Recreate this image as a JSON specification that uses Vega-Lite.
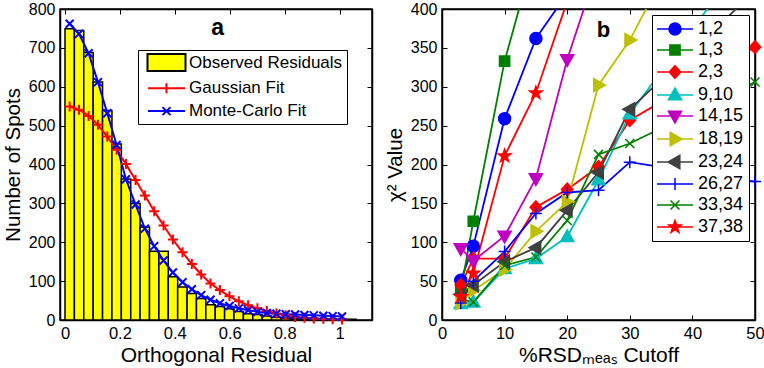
{
  "$schema": "https://vega.github.io/schema/vega-lite/v6.json",
  "padding": {"left": 2, "top": 0, "right": 0, "bottom": 0},
  "bounds": "flush",
  "spacing": 70,
  "config": {
    "font": "Liberation Sans",
    "view": {"stroke": "black", "strokeWidth": 1.5},
    "axis": {
      "labelFont": "Liberation Sans", "labelFontSize": 16.5, "labelColor": "black",
      "titleFont": "Liberation Sans", "titleFontSize": 21, "titleFontWeight": "normal", "titleColor": "black",
      "domainColor": "black", "domainWidth": 1.5, "tickColor": "black", "tickSize": -5, "tickWidth": 1,
      "labelPadding": 10, "titlePadding": 3, "grid": false
    },
    "axisX": {"labelFlush": false},
    "axisY": {"titlePadding": 4.8, "titleFontSize": 20.5, "labelFontSize": 16},
    "legend": {"labelFont": "Liberation Sans", "labelColor": "black", "labelLimit": 400}
  },
  "datasets": {
    "hist": [
      {"x0": 0, "x1": 0.0342, "n": 749}, {"x0": 0.0342, "x1": 0.0684, "n": 745}, {"x0": 0.0684, "x1": 0.1026, "n": 688},
      {"x0": 0.1026, "x1": 0.1368, "n": 612}, {"x0": 0.1368, "x1": 0.171, "n": 539}, {"x0": 0.171, "x1": 0.2052, "n": 453},
      {"x0": 0.2052, "x1": 0.2394, "n": 363}, {"x0": 0.2394, "x1": 0.2736, "n": 300}, {"x0": 0.2736, "x1": 0.3078, "n": 239},
      {"x0": 0.3078, "x1": 0.342, "n": 177}, {"x0": 0.342, "x1": 0.3762, "n": 177}, {"x0": 0.3762, "x1": 0.4104, "n": 111},
      {"x0": 0.4104, "x1": 0.4446, "n": 85}, {"x0": 0.4446, "x1": 0.4788, "n": 68}, {"x0": 0.4788, "x1": 0.513, "n": 55},
      {"x0": 0.513, "x1": 0.5472, "n": 39}, {"x0": 0.5472, "x1": 0.5814, "n": 35}, {"x0": 0.5814, "x1": 0.6156, "n": 29},
      {"x0": 0.6156, "x1": 0.6498, "n": 22}, {"x0": 0.6498, "x1": 0.684, "n": 16}, {"x0": 0.684, "x1": 0.7182, "n": 14},
      {"x0": 0.7182, "x1": 0.7524, "n": 10}, {"x0": 0.7524, "x1": 0.7866, "n": 7}, {"x0": 0.7866, "x1": 0.8208, "n": 5},
      {"x0": 0.8208, "x1": 0.855, "n": 4}, {"x0": 0.855, "x1": 0.8892, "n": 3}, {"x0": 0.8892, "x1": 0.9234, "n": 3},
      {"x0": 0.9234, "x1": 0.9576, "n": 2}, {"x0": 0.9576, "x1": 0.9918, "n": 2}, {"x0": 0.9918, "x1": 1.026, "n": 2},
      {"x0": 1.026, "x1": 1.0602, "n": 2}
    ],
    "fits": [
      {"series": "Gaussian Fit", "x": 0.017, "y": 549}, {"series": "Gaussian Fit", "x": 0.051, "y": 541},
      {"series": "Gaussian Fit", "x": 0.086, "y": 525}, {"series": "Gaussian Fit", "x": 0.12, "y": 502},
      {"series": "Gaussian Fit", "x": 0.154, "y": 472}, {"series": "Gaussian Fit", "x": 0.188, "y": 438},
      {"series": "Gaussian Fit", "x": 0.222, "y": 401}, {"series": "Gaussian Fit", "x": 0.257, "y": 360},
      {"series": "Gaussian Fit", "x": 0.291, "y": 320}, {"series": "Gaussian Fit", "x": 0.325, "y": 280},
      {"series": "Gaussian Fit", "x": 0.359, "y": 243}, {"series": "Gaussian Fit", "x": 0.393, "y": 207},
      {"series": "Gaussian Fit", "x": 0.428, "y": 174}, {"series": "Gaussian Fit", "x": 0.462, "y": 144},
      {"series": "Gaussian Fit", "x": 0.496, "y": 117}, {"series": "Gaussian Fit", "x": 0.53, "y": 94},
      {"series": "Gaussian Fit", "x": 0.564, "y": 77}, {"series": "Gaussian Fit", "x": 0.599, "y": 61},
      {"series": "Gaussian Fit", "x": 0.633, "y": 48}, {"series": "Gaussian Fit", "x": 0.667, "y": 38},
      {"series": "Gaussian Fit", "x": 0.701, "y": 30}, {"series": "Gaussian Fit", "x": 0.735, "y": 23},
      {"series": "Gaussian Fit", "x": 0.77, "y": 17}, {"series": "Gaussian Fit", "x": 0.804, "y": 12},
      {"series": "Gaussian Fit", "x": 0.838, "y": 8}, {"series": "Gaussian Fit", "x": 0.872, "y": 6},
      {"series": "Gaussian Fit", "x": 0.906, "y": 4}, {"series": "Gaussian Fit", "x": 0.941, "y": 3},
      {"series": "Gaussian Fit", "x": 0.975, "y": 2}, {"series": "Gaussian Fit", "x": 1.009, "y": 1},
      {"series": "Monte-Carlo Fit", "x": 0.017, "y": 762}, {"series": "Monte-Carlo Fit", "x": 0.051, "y": 736},
      {"series": "Monte-Carlo Fit", "x": 0.086, "y": 686}, {"series": "Monte-Carlo Fit", "x": 0.12, "y": 612},
      {"series": "Monte-Carlo Fit", "x": 0.154, "y": 532}, {"series": "Monte-Carlo Fit", "x": 0.188, "y": 450},
      {"series": "Monte-Carlo Fit", "x": 0.222, "y": 362}, {"series": "Monte-Carlo Fit", "x": 0.257, "y": 297},
      {"series": "Monte-Carlo Fit", "x": 0.291, "y": 235}, {"series": "Monte-Carlo Fit", "x": 0.325, "y": 190},
      {"series": "Monte-Carlo Fit", "x": 0.359, "y": 153}, {"series": "Monte-Carlo Fit", "x": 0.393, "y": 122},
      {"series": "Monte-Carlo Fit", "x": 0.428, "y": 97}, {"series": "Monte-Carlo Fit", "x": 0.462, "y": 79},
      {"series": "Monte-Carlo Fit", "x": 0.496, "y": 64}, {"series": "Monte-Carlo Fit", "x": 0.53, "y": 52},
      {"series": "Monte-Carlo Fit", "x": 0.564, "y": 43}, {"series": "Monte-Carlo Fit", "x": 0.599, "y": 36},
      {"series": "Monte-Carlo Fit", "x": 0.633, "y": 30}, {"series": "Monte-Carlo Fit", "x": 0.667, "y": 25},
      {"series": "Monte-Carlo Fit", "x": 0.701, "y": 21}, {"series": "Monte-Carlo Fit", "x": 0.735, "y": 18},
      {"series": "Monte-Carlo Fit", "x": 0.77, "y": 16}, {"series": "Monte-Carlo Fit", "x": 0.804, "y": 15},
      {"series": "Monte-Carlo Fit", "x": 0.838, "y": 14}, {"series": "Monte-Carlo Fit", "x": 0.872, "y": 13},
      {"series": "Monte-Carlo Fit", "x": 0.906, "y": 12}, {"series": "Monte-Carlo Fit", "x": 0.941, "y": 11},
      {"series": "Monte-Carlo Fit", "x": 0.975, "y": 10}, {"series": "Monte-Carlo Fit", "x": 1.009, "y": 9}
    ],
    "chi": [
      {"s": "1,2", "x": 3, "y": 51}, {"s": "1,2", "x": 5, "y": 95}, {"s": "1,2", "x": 10, "y": 259}, {"s": "1,2", "x": 15, "y": 362}, {"s": "1,2", "x": 20, "y": 420},
      {"s": "1,3", "x": 3, "y": 38}, {"s": "1,3", "x": 5, "y": 127}, {"s": "1,3", "x": 10, "y": 333}, {"s": "1,3", "x": 15, "y": 478},
      {"s": "2,3", "x": 3, "y": 45}, {"s": "2,3", "x": 5, "y": 79}, {"s": "2,3", "x": 10, "y": 79}, {"s": "2,3", "x": 15, "y": 145}, {"s": "2,3", "x": 20, "y": 168}, {"s": "2,3", "x": 25, "y": 197}, {"s": "2,3", "x": 30, "y": 257}, {"s": "2,3", "x": 50, "y": 351},
      {"s": "9,10", "x": 3, "y": 21}, {"s": "9,10", "x": 5, "y": 23}, {"s": "9,10", "x": 10, "y": 66}, {"s": "9,10", "x": 15, "y": 79}, {"s": "9,10", "x": 20, "y": 107}, {"s": "9,10", "x": 25, "y": 180}, {"s": "9,10", "x": 30, "y": 265}, {"s": "9,10", "x": 50, "y": 483},
      {"s": "14,15", "x": 3, "y": 92}, {"s": "14,15", "x": 5, "y": 76}, {"s": "14,15", "x": 10, "y": 108}, {"s": "14,15", "x": 15, "y": 182}, {"s": "14,15", "x": 20, "y": 335}, {"s": "14,15", "x": 25, "y": 457},
      {"s": "18,19", "x": 3, "y": 22}, {"s": "18,19", "x": 5, "y": 38}, {"s": "18,19", "x": 10, "y": 65}, {"s": "18,19", "x": 15, "y": 114}, {"s": "18,19", "x": 20, "y": 152}, {"s": "18,19", "x": 25, "y": 302}, {"s": "18,19", "x": 30, "y": 360}, {"s": "18,19", "x": 50, "y": 668},
      {"s": "23,24", "x": 3, "y": 33}, {"s": "23,24", "x": 5, "y": 45}, {"s": "23,24", "x": 10, "y": 75}, {"s": "23,24", "x": 15, "y": 93}, {"s": "23,24", "x": 20, "y": 141}, {"s": "23,24", "x": 25, "y": 190}, {"s": "23,24", "x": 30, "y": 271}, {"s": "23,24", "x": 50, "y": 423},
      {"s": "26,27", "x": 3, "y": 22}, {"s": "26,27", "x": 5, "y": 50}, {"s": "26,27", "x": 10, "y": 88}, {"s": "26,27", "x": 15, "y": 137}, {"s": "26,27", "x": 20, "y": 164}, {"s": "26,27", "x": 25, "y": 167}, {"s": "26,27", "x": 30, "y": 203}, {"s": "26,27", "x": 50, "y": 178},
      {"s": "33,34", "x": 3, "y": 27}, {"s": "33,34", "x": 5, "y": 23}, {"s": "33,34", "x": 10, "y": 70}, {"s": "33,34", "x": 15, "y": 81}, {"s": "33,34", "x": 20, "y": 128}, {"s": "33,34", "x": 25, "y": 213}, {"s": "33,34", "x": 30, "y": 227}, {"s": "33,34", "x": 50, "y": 306},
      {"s": "37,38", "x": 3, "y": 30}, {"s": "37,38", "x": 5, "y": 60}, {"s": "37,38", "x": 10, "y": 211}, {"s": "37,38", "x": 15, "y": 292}, {"s": "37,38", "x": 20, "y": 410}
    ]
  },
  "resolve": {
    "scale": {"color": "independent", "shape": "independent", "stroke": "independent"},
    "legend": {"color": "independent", "shape": "independent", "stroke": "independent"}
  },
  "hconcat": [
    {
      "width": 312, "height": 311,
      "resolve": {"axis": {"x": "independent", "y": "independent"}},
      "layer": [
        {
          "data": {"name": "hist"},
          "mark": {"type": "bar", "orient": "vertical", "stroke": "black", "strokeWidth": 1.5},
          "encoding": {
            "x": {"field": "x0", "type": "quantitative", "scale": {"domain": [0, 1.1], "nice": false, "zero": false},
                  "axis": {"orient": "bottom", "values": [0, 0.2, 0.4, 0.6, 0.8, 1], "format": "~g", "title": "Orthogonal Residual"}},
            "x2": {"field": "x1"},
            "y": {"field": "n", "type": "quantitative", "scale": {"domain": [0, 800], "nice": false},
                  "axis": {"orient": "left", "values": [0, 100, 200, 300, 400, 500, 600, 700, 800], "title": "Number of Spots"}},
            "y2": {"datum": 0},
            "color": {
              "datum": "Observed Residuals", "type": "nominal",
              "scale": {"domain": ["Observed Residuals", "Gaussian Fit", "Monte-Carlo Fit"], "range": ["#ffff00", "#ff0000", "#0000ff"]},
              "legend": {
                "title": null, "orient": "none", "legendX": 78, "legendY": 41,
                "strokeColor": "black", "fillColor": "white", "padding": 4,
                "labelFontSize": 17, "symbolSize": 100, "symbolOffset": 16, "labelOffset": 14, "rowPadding": 3.8,
                "symbolStrokeWidth": 2, "symbolOpacity": 1, "labelExpr": "datum.label + ' '"
              }
            }
          }
        },
        {
          "data": {"name": "fits"},
          "mark": {"type": "line", "strokeWidth": 2},
          "encoding": {
            "x": {"field": "x", "type": "quantitative", "axis": null},
            "y": {"field": "y", "type": "quantitative", "axis": null},
            "stroke": {"field": "series", "type": "nominal",
              "scale": {"domain": ["Observed Residuals", "Gaussian Fit", "Monte-Carlo Fit"], "range": ["#000000", "#ff0000", "#0000ff"]},
              "legend": {
                "title": null, "orient": "none", "legendX": 78, "legendY": 41,
                "strokeColor": "black", "fillColor": "white", "padding": 4,
                "labelFontSize": 17, "symbolSize": 100, "symbolOffset": 16, "labelOffset": 14, "rowPadding": 3.8,
                "symbolStrokeWidth": 2, "symbolOpacity": 1, "labelExpr": "datum.label + ' '"
              }
            }
          }
        },
        {
          "data": {"name": "fits"},
          "transform": [{"filter": "false"}],
          "mark": {"type": "point", "filled": true, "strokeWidth": 2, "size": 100, "opacity": 1},
          "encoding": {
            "x": {"field": "x", "type": "quantitative", "axis": {"orient": "top", "values": [0, 0.2, 0.4, 0.6, 0.8, 1], "labels": false, "title": null}},
            "y": {"field": "y", "type": "quantitative", "axis": {"orient": "right", "values": [0, 100, 200, 300, 400, 500, 600, 700, 800], "labels": false, "title": null}},
            "color": {"field": "series", "type": "nominal", "legend": {"title": null}},
            "stroke": {"field": "series", "type": "nominal", "legend": {"title": null}},
            "shape": {"field": "series", "type": "nominal",
                      "scale": {"domain": ["Observed Residuals", "Gaussian Fit", "Monte-Carlo Fit"],
                                "range": ["M-3.8,-1.7H3.8V1.7H-3.8Z", "M-3.7,0H3.7M0,-1V1", "M-3.7,0H3.7M-0.8,-0.8L0.8,0.8M-0.8,0.8L0.8,-0.8"]},
                      "legend": null}
          }
        },
        {
          "data": {"name": "fits"},
          "transform": [{"filter": "datum.series === 'Gaussian Fit'"}],
          "mark": {"type": "point", "shape": "M-1,0H1M0,-1V1", "filled": false, "stroke": "#ff0000", "strokeWidth": 2, "size": 100, "opacity": 1},
          "encoding": {
            "x": {"field": "x", "type": "quantitative", "axis": null},
            "y": {"field": "y", "type": "quantitative", "axis": null}
          }
        },
        {
          "data": {"name": "fits"},
          "transform": [{"filter": "datum.series === 'Monte-Carlo Fit'"}],
          "mark": {"type": "point", "shape": "M-0.8,-0.8L0.8,0.8M-0.8,0.8L0.8,-0.8", "filled": false, "stroke": "#0000ff", "strokeWidth": 2, "size": 100, "opacity": 1},
          "encoding": {
            "x": {"field": "x", "type": "quantitative", "axis": null},
            "y": {"field": "y", "type": "quantitative", "axis": null}
          }
        },
        {
          "data": {"values": [{}]},
          "mark": {"type": "text", "text": "a", "font": "Liberation Sans", "fontSize": 23, "fontWeight": "bold", "baseline": "alphabetic", "align": "center", "color": "black"},
          "encoding": {
            "x": {"datum": 0.556, "type": "quantitative", "axis": null},
            "y": {"datum": 733, "type": "quantitative", "axis": null}
          }
        }
      ]
    },
    {
      "width": 313, "height": 311,
      "resolve": {"axis": {"x": "independent", "y": "independent"}},
      "layer": [
        {
          "data": {"name": "chi"},
          "mark": {"type": "line", "strokeWidth": 1.8, "clip": true},
          "encoding": {
            "x": {"field": "x", "type": "quantitative", "scale": {"domain": [0, 50], "nice": false},
                  "axis": {"orient": "bottom", "values": [0, 10, 20, 30, 40, 50], "title": "%RSDₘₑₐₛ Cutoff"}},
            "y": {"field": "y", "type": "quantitative", "scale": {"domain": [0, 400], "nice": false},
                  "axis": {"orient": "left", "values": [0, 50, 100, 150, 200, 250, 300, 350, 400], "title": "χ² Value"}},
            "color": {
              "field": "s", "type": "nominal",
              "scale": {"domain": ["1,2", "1,3", "2,3", "9,10", "14,15", "18,19", "23,24", "26,27", "33,34", "37,38"],
                        "range": ["#0000ff", "#008000", "#ff0000", "#00bfbf", "#bf00bf", "#bfbf00", "#404040", "#0000ff", "#008000", "#ff0000"]},
              "legend": {
                "title": null, "orient": "none", "legendX": 210, "legendY": 6,
                "strokeColor": "black", "fillColor": "white", "padding": 5,
                "labelFontSize": 18, "symbolSize": 144, "symbolOffset": 9, "labelOffset": 14, "rowPadding": 3,
                "symbolStrokeWidth": 1.5, "symbolOpacity": 1
              }
            }
          }
        },
        {
          "data": {"name": "chi"},
          "transform": [{"filter": "false"}],
          "mark": {"type": "point", "filled": true, "strokeWidth": 1.5, "size": 144, "opacity": 1},
          "encoding": {
            "x": {"field": "x", "type": "quantitative", "axis": {"orient": "top", "values": [0, 10, 20, 30, 40, 50], "labels": false, "title": null}},
            "y": {"field": "y", "type": "quantitative", "axis": {"orient": "right", "values": [0, 50, 100, 150, 200, 250, 300, 350, 400], "labels": false, "title": null}},
            "color": {"field": "s", "type": "nominal", "legend": {"title": null}},
            "stroke": {"field": "s", "type": "nominal",
                       "scale": {"domain": ["1,2", "1,3", "2,3", "9,10", "14,15", "18,19", "23,24", "26,27", "33,34", "37,38"],
                                 "range": ["#0000ff", "#008000", "#ff0000", "#00bfbf", "#bf00bf", "#bfbf00", "#404040", "#0000ff", "#008000", "#ff0000"]},
                       "legend": null},
            "shape": {"field": "s", "type": "nominal",
                      "scale": {"domain": ["1,2", "1,3", "2,3", "9,10", "14,15", "18,19", "23,24", "26,27", "33,34", "37,38"],
                                "range": ["M-3,0H3M-1,0A1,1,0,1,1,1,0A1,1,0,1,1,-1,0Z", "M-3,0H3M-0.85,-0.85H0.85V0.85H-0.85Z", "M-3,0H3M0,-1.05L0.95,0L0,1.05L-0.95,0Z", "M-3,0H3M0,-1.15L1.1,0.8H-1.1Z", "M-3,0H3M0,1.15L1.1,-0.8H-1.1Z", "M-3,0H3M1.15,0L-0.8,1.1V-1.1Z", "M-3,0H3M-1.15,0L0.8,1.1V-1.1Z", "M-3,0H3M0,-1V1", "M-3,0H3M-0.75,-0.75L0.75,0.75M-0.75,0.75L0.75,-0.75", "M-3,0H3M0,-1.1L0.26,-0.36L1.05,-0.34L0.42,0.14L0.65,0.89L0,0.44L-0.65,0.89L-0.42,0.14L-1.05,-0.34L-0.26,-0.36Z"]},
                      "legend": null}
          }
        },
        {"data": {"name": "chi"}, "transform": [{"filter": "datum.s === '1,2' && datum.y <= 400"}],
         "mark": {"type": "point", "shape": "M-1,0A1,1,0,1,1,1,0A1,1,0,1,1,-1,0Z", "filled": true, "fill": "#0000ff", "stroke": "#0000ff", "strokeWidth": 1.5, "size": 144, "opacity": 1},
         "encoding": {"x": {"field": "x", "type": "quantitative", "axis": null}, "y": {"field": "y", "type": "quantitative", "axis": null}}},
        {"data": {"name": "chi"}, "transform": [{"filter": "datum.s === '1,3' && datum.y <= 400"}],
         "mark": {"type": "point", "shape": "M-0.85,-0.85H0.85V0.85H-0.85Z", "filled": true, "fill": "#008000", "stroke": "#008000", "strokeWidth": 1.5, "size": 144, "opacity": 1},
         "encoding": {"x": {"field": "x", "type": "quantitative", "axis": null}, "y": {"field": "y", "type": "quantitative", "axis": null}}},
        {"data": {"name": "chi"}, "transform": [{"filter": "datum.s === '2,3' && datum.y <= 400"}],
         "mark": {"type": "point", "shape": "M0,-1.05L0.95,0L0,1.05L-0.95,0Z", "filled": true, "fill": "#ff0000", "stroke": "#ff0000", "strokeWidth": 1.5, "size": 144, "opacity": 1},
         "encoding": {"x": {"field": "x", "type": "quantitative", "axis": null}, "y": {"field": "y", "type": "quantitative", "axis": null}}},
        {"data": {"name": "chi"}, "transform": [{"filter": "datum.s === '9,10' && datum.y <= 400"}],
         "mark": {"type": "point", "shape": "M0,-1.15L1.1,0.8H-1.1Z", "filled": true, "fill": "#00bfbf", "stroke": "#00bfbf", "strokeWidth": 1.5, "size": 144, "opacity": 1},
         "encoding": {"x": {"field": "x", "type": "quantitative", "axis": null}, "y": {"field": "y", "type": "quantitative", "axis": null}}},
        {"data": {"name": "chi"}, "transform": [{"filter": "datum.s === '14,15' && datum.y <= 400"}],
         "mark": {"type": "point", "shape": "M0,1.15L1.1,-0.8H-1.1Z", "filled": true, "fill": "#bf00bf", "stroke": "#bf00bf", "strokeWidth": 1.5, "size": 144, "opacity": 1},
         "encoding": {"x": {"field": "x", "type": "quantitative", "axis": null}, "y": {"field": "y", "type": "quantitative", "axis": null}}},
        {"data": {"name": "chi"}, "transform": [{"filter": "datum.s === '18,19' && datum.y <= 400"}],
         "mark": {"type": "point", "shape": "M1.15,0L-0.8,1.1V-1.1Z", "filled": true, "fill": "#bfbf00", "stroke": "#bfbf00", "strokeWidth": 1.5, "size": 144, "opacity": 1},
         "encoding": {"x": {"field": "x", "type": "quantitative", "axis": null}, "y": {"field": "y", "type": "quantitative", "axis": null}}},
        {"data": {"name": "chi"}, "transform": [{"filter": "datum.s === '23,24' && datum.y <= 400"}],
         "mark": {"type": "point", "shape": "M-1.15,0L0.8,1.1V-1.1Z", "filled": true, "fill": "#404040", "stroke": "#404040", "strokeWidth": 1.5, "size": 144, "opacity": 1},
         "encoding": {"x": {"field": "x", "type": "quantitative", "axis": null}, "y": {"field": "y", "type": "quantitative", "axis": null}}},
        {"data": {"name": "chi"}, "transform": [{"filter": "datum.s === '26,27' && datum.y <= 400"}],
         "mark": {"type": "point", "shape": "M-1,0H1M0,-1V1", "filled": false, "stroke": "#0000ff", "strokeWidth": 1.5, "size": 144, "opacity": 1},
         "encoding": {"x": {"field": "x", "type": "quantitative", "axis": null}, "y": {"field": "y", "type": "quantitative", "axis": null}}},
        {"data": {"name": "chi"}, "transform": [{"filter": "datum.s === '33,34' && datum.y <= 400"}],
         "mark": {"type": "point", "shape": "M-0.75,-0.75L0.75,0.75M-0.75,0.75L0.75,-0.75", "filled": false, "stroke": "#008000", "strokeWidth": 1.5, "size": 144, "opacity": 1},
         "encoding": {"x": {"field": "x", "type": "quantitative", "axis": null}, "y": {"field": "y", "type": "quantitative", "axis": null}}},
        {"data": {"name": "chi"}, "transform": [{"filter": "datum.s === '37,38' && datum.y <= 400"}],
         "mark": {"type": "point", "shape": "M0,-1.1L0.26,-0.36L1.05,-0.34L0.42,0.14L0.65,0.89L0,0.44L-0.65,0.89L-0.42,0.14L-1.05,-0.34L-0.26,-0.36Z", "filled": true, "fill": "#ff0000", "stroke": "#ff0000", "strokeWidth": 1.5, "size": 144, "opacity": 1},
         "encoding": {"x": {"field": "x", "type": "quantitative", "axis": null}, "y": {"field": "y", "type": "quantitative", "axis": null}}},
        {
          "data": {"values": [{}]},
          "mark": {"type": "text", "text": "b", "font": "Liberation Sans", "fontSize": 22, "fontWeight": "bold", "baseline": "alphabetic", "align": "center", "color": "black"},
          "encoding": {
            "x": {"datum": 25.8, "type": "quantitative", "axis": null},
            "y": {"datum": 364, "type": "quantitative", "axis": null}
          }
        }
      ]
    }
  ]
}
